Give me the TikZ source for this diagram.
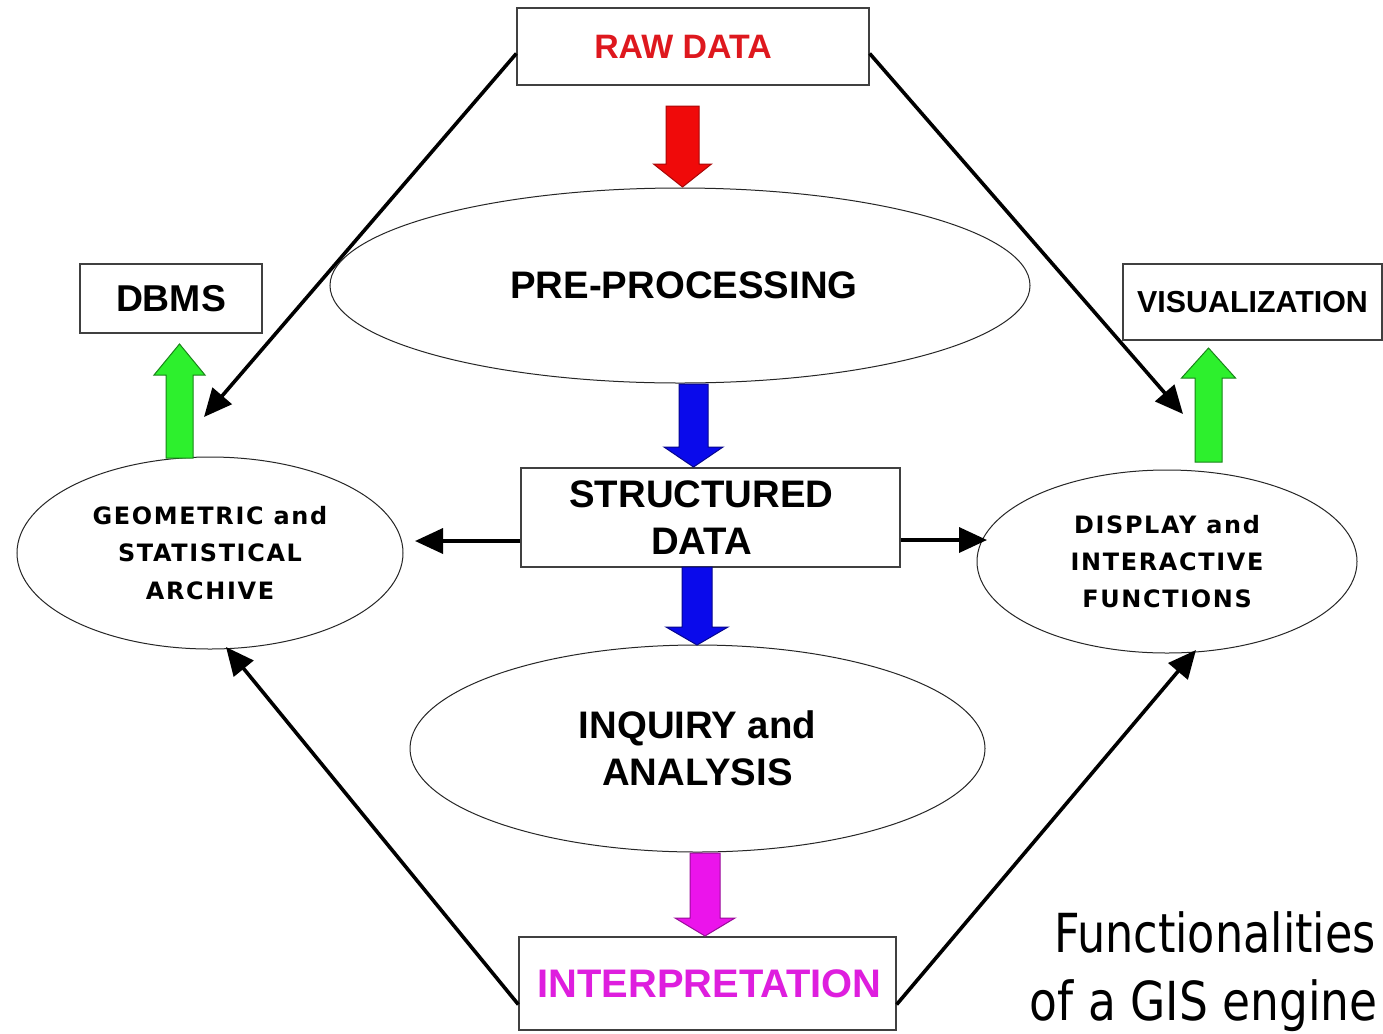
\documentclass[tikz,border=0pt]{standalone}
\usepackage{fontspec}
\setmainfont{Liberation Sans}
\newfontfamily\trackedfont[LetterSpace=7]{DejaVu Sans}
\newfontfamily\notefont{DejaVu Sans Condensed}
\usetikzlibrary{shapes.geometric,arrows.meta,calc}

\definecolor{rawred}{RGB}{222,24,30}
\definecolor{interpmag}{RGB}{222,30,222}
\definecolor{arrred}{RGB}{240,10,10}
\definecolor{arrblue}{RGB}{10,10,235}
\definecolor{arrgreen}{RGB}{45,240,45}
\definecolor{arrmag}{RGB}{235,20,235}

% block arrow: fill, outline, centre x, start y, neck y, tip y, half shaft, half head
\newcommand{\blockarrow}[8]{%
  \filldraw[fill=#1, draw=#2, line width=1bp, line join=miter]
    ({#3-#7},#4) -- ({#3-#7},#5) -- ({#3-#8},#5) -- (#3,#6)
    -- ({#3+#8},#5) -- ({#3+#7},#5) -- ({#3+#7},#4) -- cycle;}

\begin{document}
\begin{tikzpicture}[x=1bp,y=-1bp,
  box/.style={draw=black!75, line width=1.3bp, fill=white, inner sep=0pt},
  oval/.style={ellipse, draw=black!85, line width=1bp, inner sep=0pt, align=center},
  bigtext/.style={font=\fontsize{38.5}{47}\selectfont\bfseries, align=center},
  smalltext/.style={font=\trackedfont\fontsize{24}{37.5}\selectfont\bfseries, align=center},
  link/.style={line width=3.6bp, -{Triangle[length=28bp,width=25bp]}}]

\useasboundingbox[fill=white] (0,0) rectangle (1383,1033);

% boxes
\node[box, minimum width=352bp, minimum height=77bp, text=rawred,
      font=\fontsize{34}{40}\selectfont\bfseries] (raw) at (693,46.5)
  {RAW DATA\hspace*{20bp}};
\node[box, bigtext, minimum width=379bp, minimum height=99bp] (struct) at (710.5,517.5)
  {STRUCTURED\hspace*{18bp}\\DATA\hspace*{18bp}};
\node[box, minimum width=377bp, minimum height=93bp, text=interpmag,
      font=\fontsize{40}{47}\selectfont\bfseries] (interp) at (707.5,983.5)
  {\hspace*{4bp}INTERPRETATION};
\node[box, minimum width=182bp, minimum height=69bp,
      font=\fontsize{37.5}{44}\selectfont\bfseries] (dbms) at (171,298.5) {DBMS};
\node[box, minimum width=259bp, minimum height=76bp,
      font=\fontsize{30.5}{36}\selectfont\bfseries] (visu) at (1252.5,302) {VISUALIZATION};

% ellipses
\node[oval, bigtext, minimum width=700bp, minimum height=195bp] (pre) at (680,285.5)
  {\hspace*{8bp}PRE-PROCESSING};
\node[oval, bigtext, minimum width=575bp, minimum height=207bp] (inq) at (697.5,748.5)
  {INQUIRY and\\ANALYSIS};
\node[oval, smalltext, minimum width=386bp, minimum height=192bp] (geo) at (210,553)
  {GEOMETRIC and\\STATISTICAL\\ARCHIVE};
\node[oval, smalltext, minimum width=380bp, minimum height=183bp] (disp) at (1167,561.5)
  {DISPLAY and\\INTERACTIVE\\FUNCTIONS};

% block arrows between the stages
\blockarrow{arrred}{arrred!70!black}{682.5}{106}{164}{187}{16.5}{29}
\blockarrow{arrblue}{arrblue!60!black}{693.5}{384}{447}{467}{14.5}{29.5}
\blockarrow{arrblue}{arrblue!60!black}{697}{567}{627}{645}{15}{31}
\blockarrow{arrmag}{arrmag!65!black}{705}{853}{918}{936}{15}{30}
\blockarrow{arrgreen}{arrgreen!55!black}{179.5}{458}{375}{344}{13.5}{25.5}
\blockarrow{arrgreen}{arrgreen!55!black}{1208.5}{462}{378}{348}{13.5}{27}

% connectors
\coordinate (tipGeo) at (204,417);
\coordinate (tipDisp) at (1183,414);
\coordinate (tipStructL) at (415,541);
\coordinate (tipStructR) at (987,540);
\coordinate (tipGeoB) at (226,647);
\coordinate (tipDispB) at (1196,650);

\draw[link] ($(raw.west)+(0,7)$) -- (tipGeo);
\draw[link] ($(raw.east)+(0,7)$) -- (tipDisp);
\draw[link] (struct.west |- tipStructL) -- (tipStructL);
\draw[link] (struct.east |- tipStructR) -- (tipStructR);
\draw[link] ($(interp.west)+(0,21)$) -- (tipGeoB);
\draw[link] ($(interp.east)+(0,21)$) -- (tipDispB);

% caption
\node[anchor=base east, inner sep=0pt, font=\notefont\fontsize{54}{60}\selectfont]
  (cap1) at (1376,952) {\scalebox{0.92}[1]{Functionalities}};
\node[anchor=base east, inner sep=0pt, font=\notefont\fontsize{54}{60}\selectfont]
  (cap2) at (1378,1020) {\scalebox{0.94}[1]{of a GIS engine}};
\end{tikzpicture}
\end{document}
